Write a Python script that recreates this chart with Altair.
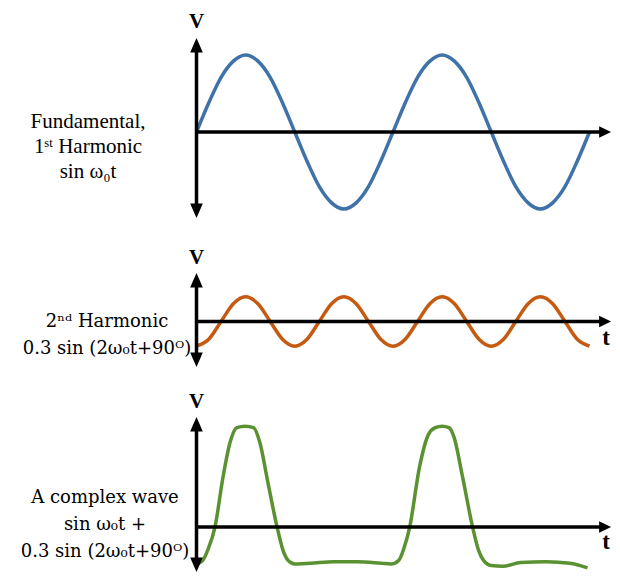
import altair as alt
import pandas as pd

# ---------------- data ----------------
# time axis in units of one fundamental period
T = [0, 0.0625, 0.125, 0.1875, 0.25, 0.3125, 0.375, 0.4375, 0.5,
     0.5625, 0.625, 0.6875, 0.75, 0.8125, 0.875, 0.9375, 1.0,
     1.0625, 1.125, 1.1875, 1.25, 1.3125, 1.375, 1.4375, 1.5,
     1.5625, 1.625, 1.6875, 1.75, 1.8125, 1.875, 1.9375, 2.0]

FUNDAMENTAL = [0, 0.38, 0.71, 0.92, 1.0, 0.92, 0.71, 0.38, 0,
               -0.38, -0.71, -0.92, -1.0, -0.92, -0.71, -0.38, 0,
               0.38, 0.71, 0.92, 1.0, 0.92, 0.71, 0.38, 0,
               -0.38, -0.71, -0.92, -1.0, -0.92, -0.71, -0.38, 0]

SECOND = [-0.32, -0.23, 0, 0.23, 0.32, 0.23, 0, -0.23, -0.32,
          -0.23, 0, 0.23, 0.32, 0.23, 0, -0.23, -0.32,
          -0.23, 0, 0.23, 0.32, 0.23, 0, -0.23, -0.32,
          -0.23, 0, 0.23, 0.32, 0.23, 0, -0.23, -0.32]

T_COMPLEX = [0.0, 0.03, 0.06, 0.094, 0.135, 0.17, 0.205, 0.247, 0.29, 0.323,
             0.364, 0.41, 0.44, 0.465, 0.5, 0.58, 0.70, 0.82, 0.94, 0.99,
             1.03, 1.055, 1.085, 1.135, 1.18, 1.215, 1.25, 1.285, 1.31, 1.354,
             1.405, 1.435, 1.46, 1.5, 1.56, 1.65, 1.78, 1.90, 1.99]
COMPLEX = [-0.48, -0.44, -0.28, 0.0, 0.65, 1.09, 1.29, 1.31, 1.29, 1.09,
           0.57, 0.0, -0.30, -0.43, -0.48, -0.47, -0.45, -0.45, -0.47, -0.48,
           -0.43, -0.28, 0.0, 0.78, 1.20, 1.29, 1.31, 1.29, 1.17, 0.65,
           0.0, -0.30, -0.43, -0.50, -0.51, -0.46, -0.45, -0.47, -0.53]

LABEL_1 = ["Fundamental,", "1\u02e2\u1d57 Harmonic", "sin \u03c9\u2080t"]
LABEL_2 = ["2\u207f\u1d48 Harmonic", "0.3 sin (2\u03c9\u2080t+90\u1d3c)"]
LABEL_3 = ["A complex wave", "sin \u03c9\u2080t +", "0.3 sin (2\u03c9\u2080t+90\u1d3c)"]

# ---------------- layout ----------------
WIDTH = 604
X_DOMAIN = [-0.9593, 2.1145]

ARROW_RIGHT = "M0,0L-2,-0.95L-2,0.95Z"
ARROW_UP = "M0,0L-0.87,2L0.87,2Z"
ARROW_DOWN = "M0,0L-0.87,-2L0.87,-2Z"

ONE = pd.DataFrame({"k": [0]})


def panel(values_t, values_v, color, ydom, height, label_lines, label_font,
          label_size, label_lh, label_x, label_y, v_y, y_top, y_bot, x_tip,
          t_pos=None):
    xs = alt.Scale(domain=X_DOMAIN, nice=False, zero=False)
    ys = alt.Scale(domain=ydom, nice=False, zero=False)
    df = pd.DataFrame({"t": values_t, "v": values_v})

    x_axis = alt.Chart(ONE).mark_rule(color="black", strokeWidth=3.5).encode(
        x=alt.X(datum=0, type="quantitative", scale=xs, axis=None),
        x2=alt.X2(datum=x_tip - 0.04),
        y=alt.Y(datum=0, type="quantitative", scale=ys, axis=None),
    )
    y_axis = alt.Chart(ONE).mark_rule(color="black", strokeWidth=3.5).encode(
        x=alt.X(datum=0, type="quantitative", scale=xs, axis=None),
        y=alt.Y(datum=y_bot + 0.12, type="quantitative", scale=ys, axis=None),
        y2=alt.Y2(datum=y_top - 0.12),
    )
    arrow_r = alt.Chart(ONE).mark_point(
        shape=ARROW_RIGHT, size=144, filled=True, color="black", opacity=1
    ).encode(
        x=alt.X(datum=x_tip, type="quantitative", scale=xs, axis=None),
        y=alt.Y(datum=0, type="quantitative", scale=ys, axis=None),
    )
    arrow_u = alt.Chart(ONE).mark_point(
        shape=ARROW_UP, size=210, filled=True, color="black", opacity=1
    ).encode(
        x=alt.X(datum=0, type="quantitative", scale=xs, axis=None),
        y=alt.Y(datum=y_top, type="quantitative", scale=ys, axis=None),
    )
    arrow_d = alt.Chart(ONE).mark_point(
        shape=ARROW_DOWN, size=210, filled=True, color="black", opacity=1
    ).encode(
        x=alt.X(datum=0, type="quantitative", scale=xs, axis=None),
        y=alt.Y(datum=y_bot, type="quantitative", scale=ys, axis=None),
    )
    curve = alt.Chart(df).mark_line(
        color=color, strokeWidth=3.5, interpolate="monotone"
    ).encode(
        x=alt.X("t:Q", scale=xs, axis=None),
        y=alt.Y("v:Q", scale=ys, axis=None),
    )
    v_text = alt.Chart(ONE).mark_text(
        text="V", font="Liberation Serif", fontSize=21, fontWeight="bold",
        align="center", baseline="middle", color="black"
    ).encode(
        x=alt.X(datum=0, type="quantitative", scale=xs, axis=None),
        y=alt.Y(datum=v_y, type="quantitative", scale=ys, axis=None),
    )
    label = alt.Chart(ONE).mark_text(
        text=label_lines, font=label_font, fontSize=label_size,
        lineHeight=label_lh, align="center", baseline="middle", color="black"
    ).encode(
        x=alt.X(datum=label_x, type="quantitative", scale=xs, axis=None),
        y=alt.Y(datum=label_y, type="quantitative", scale=ys, axis=None),
    )
    layers = [curve, x_axis, y_axis, arrow_r, arrow_u, arrow_d, v_text, label]
    if t_pos is not None:
        t_text = alt.Chart(ONE).mark_text(
            text="t", font="Liberation Serif", fontSize=23, fontWeight="bold",
            align="center", baseline="middle", color="black"
        ).encode(
            x=alt.X(datum=t_pos[0], type="quantitative", scale=xs, axis=None),
            y=alt.Y(datum=t_pos[1], type="quantitative", scale=ys, axis=None),
        )
        layers.append(t_text)
    return alt.layer(*layers).properties(width=WIDTH, height=height)


SERIF_A = "Liberation Serif, DejaVu Serif"
SERIF_B = "DejaVu Serif"

p1 = panel(T, FUNDAMENTAL, "#3e72a8", [-1.2078, 1.6104], 217,
           LABEL_1, SERIF_A, 21, 25, -0.552, 0.13, 1.43, 1.221, -1.117, 2.11)
p2 = panel(T, SECOND, "#c55a11", [-0.656, 1.253], 147,
           LABEL_2, SERIF_B, 18, 27, -0.4555, -0.013, 0.825, 0.63, -0.59, 2.11,
           t_pos=(2.084, -0.214))
p3 = panel(T_COMPLEX, COMPLEX, "#5a9232", [-0.597, 2.013], 201,
           LABEL_3, SERIF_B, 18, 27, -0.4656, 0.377, 1.623, 1.43, -0.585, 2.11,
           t_pos=(2.084, -0.195))

chart = alt.vconcat(p1, p2, p3, spacing=0, bounds="flush").properties(
    padding=0
).configure_view(stroke=None)

chart.save("out.html", embed_options={"renderer": "svg", "actions": False})
